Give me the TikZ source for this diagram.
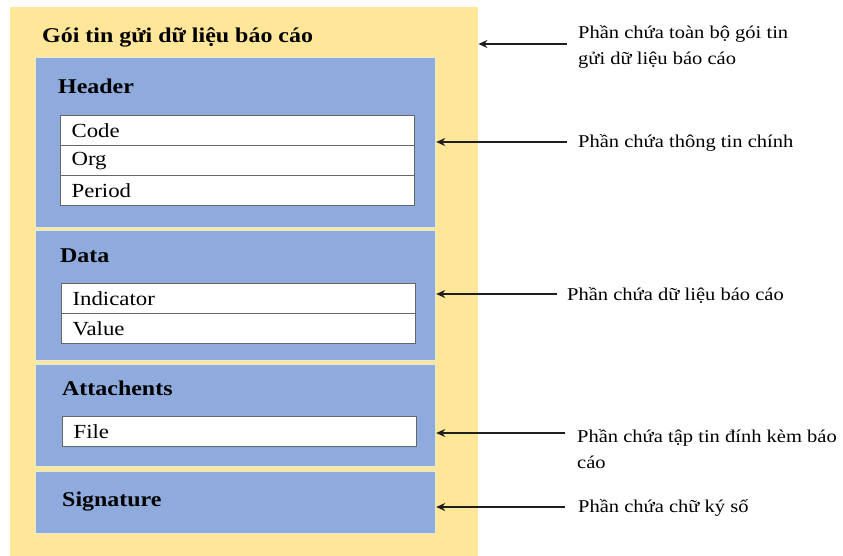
\documentclass[tikz,border=0pt]{standalone}
\usepackage{fontspec}
\setmainfont[FakeStretch=1.14]{Liberation Serif}
\usetikzlibrary{arrows.meta}
\definecolor{packyellow}{HTML}{FFE699}
\definecolor{panelblue}{HTML}{8FAADC}
\definecolor{paneledge}{HTML}{E2EBD9}
\definecolor{fieldedge}{HTML}{666666}
\definecolor{arrowink}{HTML}{1E1E1E}
\tikzset{
  panel/.style={draw=paneledge, line width=1.2pt, fill=panelblue, anchor=north west,
    minimum width=400pt, inner sep=0pt},
  field/.style={draw=fieldedge, line width=1.2pt, fill=white, anchor=north west,
    text width=332pt, inner xsep=11pt, inner ysep=0pt, minimum height=30pt, align=left,
    font=\fontsize{20}{22}\selectfont},
  heading/.style={anchor=base west, inner sep=0pt, font=\fontsize{21}{24}\selectfont\bfseries},
  note/.style={anchor=west, inner sep=0pt, align=left, font=\fontsize{18}{26}\selectfont},
  pointer/.style={draw=arrowink, line width=2pt, -{Stealth[length=9pt,width=8pt]}}
}
\begin{document}
\begin{tikzpicture}[x=1pt,y=-1pt]
\useasboundingbox (0,0) rectangle (843,556);

% outer packet
\node[fill=packyellow, anchor=north west, minimum width=468pt, minimum height=549pt, inner sep=0pt] (pack) at (10,7) {};
\node[heading, font=\fontsize{21}{24}\selectfont\bfseries] (title) at (42,43) {Gói tin gửi dữ liệu báo cáo};

% header section
\node[panel, minimum height=170pt] (header) at (35,57) {};
\node[heading] (hlabel) at (58,94) {Header};
\node[field] (code) at (60,115) {Code};
\node[field] (org) at (60,145) {Org};
\node[field] (period) at (60,175) {Period};

% data section
\node[panel, minimum height=130pt] (data) at (35,230) {};
\node[heading] (dlabel) at (60,262) {Data};
\node[field] (indicator) at (61,283) {Indicator};
\node[field] (value) at (61,313) {Value};

% attachments section
\node[panel, minimum height=102pt] (attach) at (35,364) {};
\node[heading] (alabel) at (62,395) {Attachents};
\node[field] (file) at (62,416) {File};

% signature section
\node[panel, minimum height=62pt] (sign) at (35,471) {};
\node[heading] (slabel) at (62,506) {Signature};

% notes on the right
\node[note] (n1) at (578,47) {Phần chứa toàn bộ gói tin\\gửi dữ liệu báo cáo};
\node[note] (n2) at (578,143) {Phần chứa thông tin chính};
\node[note] (n3) at (567,295) {Phần chứa dữ liệu báo cáo};
\node[note] (n4) at (577,449) {Phần chứa tập tin đính kèm báo\\cáo};
\node[note] (n5) at (578,508) {Phần chứa chữ ký số};

% pointers
\coordinate (p1) at (567,44);
\coordinate (p2) at (567,142);
\coordinate (p3) at (557,294);
\coordinate (p4) at (565,433);
\coordinate (p5) at (565,507);
\draw[pointer] (p1) -- (p1 -| pack.east);
\draw[pointer] (p2) -- (p2 -| header.east);
\draw[pointer] (p3) -- (p3 -| data.east);
\draw[pointer] (p4) -- (p4 -| attach.east);
\draw[pointer] (p5) -- (p5 -| sign.east);
\end{tikzpicture}
\end{document}
